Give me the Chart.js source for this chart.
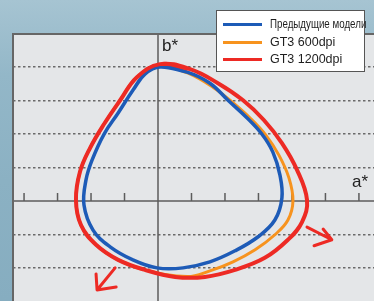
<!DOCTYPE html>
<html>
<head>
<meta charset="utf-8">
<script src="https://cdn.jsdelivr.net/npm/chart.js@4.4.1/dist/chart.umd.min.js"></script>
<style>
  html, body { margin: 0; padding: 0; }
  body {
    width: 374px; height: 301px; overflow: hidden; position: relative;
    background: linear-gradient(180deg, #a6c4d2 0%, #93b7c8 25%, #8bb1c3 60%, #86adc0 100%);
    font-family: "Liberation Sans", Arial, sans-serif;
  }
  #wrap { position: absolute; left: 0; top: 0; width: 374px; height: 301px; }
  .axis-label { position: absolute; font-size: 17px; color: #222; line-height: 1; }
  #legend {
    position: absolute; left: 216px; top: 10px; width: 149px; height: 62px;
    background: #fff; border: 1.5px solid #555; box-sizing: border-box;
  }
  .item { position: absolute; left: 0; width: 100%; height: 16px; }
  .swatch { position: absolute; left: 6px; top: 7px; width: 39px; height: 3px; }
  .txt { position: absolute; left: 53px; top: 0; font-size: 12.5px; color: #1e1e1e; white-space: nowrap; line-height: 16px; }
  .narrow { display: inline-block; transform: scaleX(0.78); transform-origin: left center; }
</style>
</head>
<body>
<div id="wrap"><canvas id="colorChart" width="374" height="301"></canvas></div>
<div class="axis-label" id="bLabel" style="left:162px; top:37px;">b*</div>
<div class="axis-label" id="aLabel" style="left:352px; top:173px;">a*</div>
<div id="legend"></div>
<script>
// gamut outlines as [a*, b*] pairs (one tick = 1 unit), clockwise from the top
const prevModels = [
    [0.06, 4.00], [0.87, 3.85], [1.55, 3.52], [2.09, 3.01], [2.63, 2.51], [3.10, 2.00],
    [3.43, 1.46], [3.64, 0.78], [3.70, 0.09], [3.49, -0.57], [2.99, -1.07], [2.30, -1.49],
    [1.55, -1.82], [0.75, -2.00], [-0.03, -2.00], [-0.75, -1.76], [-1.43, -1.37],
    [-1.94, -0.87], [-2.21, -0.12], [-2.15, 0.63], [-1.97, 1.22], [-1.61, 2.00],
    [-1.19, 2.63], [-0.75, 3.31], [-0.39, 3.79]
];
// on the left the 600dpi outline runs under the 1200dpi one
const gt3_600 = [
    [0.06, 4.07], [0.90, 3.82], [1.64, 3.40], [2.21, 2.96], [2.75, 2.48], [3.22, 1.97],
    [3.61, 1.37], [3.91, 0.69], [4.03, 0.00], [3.88, -0.57], [3.49, -1.01], [2.90, -1.46],
    [2.24, -1.82], [1.55, -2.09], [0.87, -2.26], [-0.39, -2.06], [-1.19, -1.76],
    [-1.85, -1.31], [-2.30, -0.72], [-2.45, 0.03], [-2.33, 0.87], [-2.03, 1.58],
    [-1.61, 2.30], [-1.13, 3.01], [-0.63, 3.70]
];
const gt3_1200 = [
    [0.06, 4.09], [0.96, 3.94], [1.79, 3.52], [2.54, 3.01], [3.16, 2.42], [3.70, 1.73],
    [4.15, 0.93], [4.45, 0.03], [4.30, -0.63], [3.88, -1.16], [3.19, -1.70], [2.30, -2.06],
    [1.40, -2.27], [0.51, -2.27], [-0.39, -2.06], [-1.19, -1.76], [-1.85, -1.31],
    [-2.30, -0.72], [-2.45, 0.03], [-2.33, 0.87], [-2.03, 1.58], [-1.61, 2.30],
    [-1.13, 3.01], [-0.63, 3.70]
];
// direction arrows: shaft start, tip, head arm, tip, head arm
const arrowLeft = [[-1.28, -2.00], [-1.82, -2.66], [-1.85, -2.18], [-1.82, -2.66], [-1.25, -2.57]];
const arrowRight = [[4.45, -0.78], [5.19, -1.16], [4.93, -0.84], [5.19, -1.16], [4.66, -1.34]];

const seriesNames = ['Предыдущие модели', 'GT3 600dpi', 'GT3 1200dpi'];
const aRange = [-4.33, 6.45];
const bRange = [-2.99, 4.99];

const blue = '#1d5bb7';
const orange = '#f7931e';
const red = '#ed2a24';

function toPoints(pairs) {
    return pairs.map(p => ({ x: p[0], y: p[1] }));
}

// repeat two points on each end so the spline closes without a corner
function closeLoop(pairs) {
    const n = pairs.length;
    return [pairs[n - 2], pairs[n - 1], ...pairs, pairs[0], pairs[1]];
}

function outline(label, pairs, color, width) {
    return {
        label: label,
        data: toPoints(closeLoop(pairs)),
        showLine: true,
        borderColor: color,
        backgroundColor: color,
        borderWidth: width,
        pointRadius: 0,
        tension: 0.4,
        borderJoinStyle: 'round',
        fill: false
    };
}

function arrow(pairs) {
    return {
        label: 'arrow',
        data: toPoints(pairs),
        showLine: true,
        borderColor: red,
        borderWidth: 3,
        pointRadius: 0,
        tension: 0,
        borderCapStyle: 'round',
        borderJoinStyle: 'round'
    };
}

const frame = {
    id: 'frame',
    beforeDraw(chart) {
        const { ctx, chartArea: c } = chart;
        ctx.save();
        ctx.fillStyle = '#e4e6e8';
        ctx.fillRect(c.left, c.top, c.right - c.left, c.bottom - c.top);
        ctx.restore();
    },
    beforeDatasetsDraw(chart) {
        const { ctx, chartArea: c, scales } = chart;
        const x0 = scales.x.getPixelForValue(0);
        const y0 = scales.y.getPixelForValue(0);
        ctx.save();
        ctx.strokeStyle = '#5c5c5c';
        ctx.lineWidth = 1.5;
        ctx.beginPath();
        ctx.moveTo(x0, c.top); ctx.lineTo(x0, c.bottom);
        ctx.moveTo(c.left, y0); ctx.lineTo(c.right, y0);
        // small tick marks along a*
        for (let a = Math.ceil(aRange[0]); a <= aRange[1]; a++) {
            const px = scales.x.getPixelForValue(a);
            ctx.moveTo(px, y0); ctx.lineTo(px, y0 - 8);
        }
        ctx.stroke();
        ctx.strokeStyle = '#666';
        ctx.lineWidth = 2;
        ctx.beginPath();
        ctx.moveTo(c.left, c.bottom); ctx.lineTo(c.left, c.top); ctx.lineTo(c.right, c.top);
        ctx.stroke();
        ctx.restore();
    }
};

// chart.js paints the first dataset on top, so red goes first
const ctx = document.getElementById('colorChart').getContext('2d');
new Chart(ctx, {
    type: 'scatter',
    data: {
        datasets: [
            arrow(arrowLeft),
            arrow(arrowRight),
            outline(seriesNames[2], gt3_1200, red, 4),
            outline(seriesNames[0], prevModels, blue, 3.5),
            outline(seriesNames[1], gt3_600, orange, 3)
        ]
    },
    options: {
        responsive: false,
        animation: false,
        layout: { padding: { left: 13, top: 34, right: 0, bottom: 0 } },
        plugins: { legend: { display: false }, tooltip: { enabled: false } },
        scales: {
            x: {
                type: 'linear', min: aRange[0], max: aRange[1],
                ticks: { display: false },
                grid: { display: false, drawTicks: false },
                border: { display: false }
            },
            y: {
                type: 'linear', min: bRange[0], max: bRange[1],
                ticks: { display: false, stepSize: 1 },
                grid: {
                    drawTicks: false,
                    lineWidth: 1.5,
                    color: c => (c.tick && c.tick.value !== 0 && Number.isInteger(c.tick.value)) ? '#6a6a6a' : 'rgba(0,0,0,0)'
                },
                border: { display: false, dash: [2.5, 2.5] }
            }
        }
    },
    plugins: [frame]
});

// legend box
const legend = document.getElementById('legend');
[blue, orange, red].forEach((color, i) => {
    const item = document.createElement('div');
    item.className = 'item';
    item.style.top = (5 + i * 17.5) + 'px';
    const cls = i === 0 ? 'narrow' : '';
    item.innerHTML = `<div class="swatch" style="background:${color}"></div><div class="txt"><span class="${cls}">${seriesNames[i]}</span></div>`;
    legend.appendChild(item);
});
</script>
</body>
</html>
